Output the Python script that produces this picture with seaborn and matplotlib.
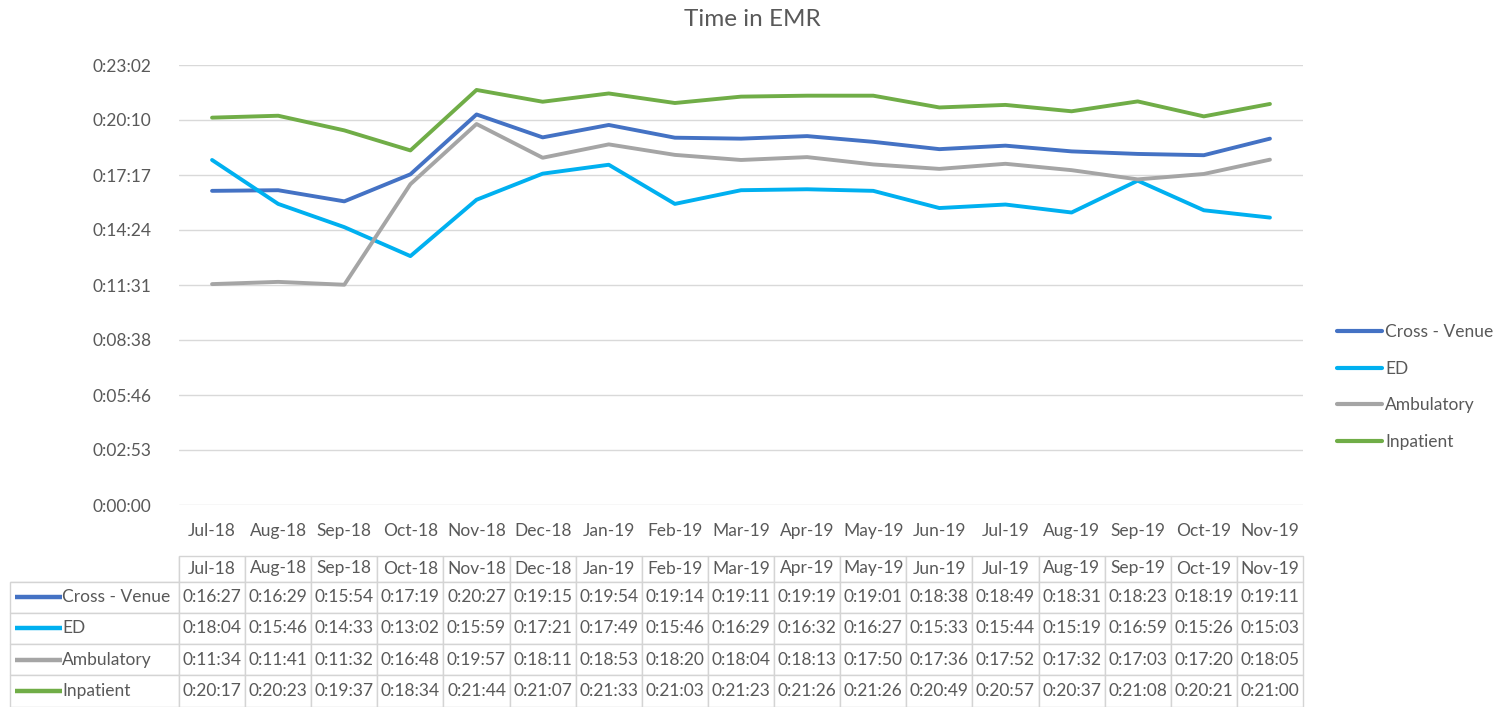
"""Time in EMR line chart with data table underneath (Excel-style)."""

import matplotlib
matplotlib.use("Agg")
import matplotlib.pyplot as plt
from matplotlib.lines import Line2D
from matplotlib.ticker import FixedLocator, FuncFormatter
import pandas as pd
import seaborn as sns

months = ["Jul-18", "Aug-18", "Sep-18", "Oct-18", "Nov-18", "Dec-18", "Jan-19", "Feb-19",
          "Mar-19", "Apr-19", "May-19", "Jun-19", "Jul-19", "Aug-19", "Sep-19", "Oct-19", "Nov-19"]

series_names = ["Cross - Venue", "ED", "Ambulatory", "Inpatient"]

cross_venue = ["0:16:27", "0:16:29", "0:15:54", "0:17:19", "0:20:27", "0:19:15", "0:19:54", "0:19:14",
               "0:19:11", "0:19:19", "0:19:01", "0:18:38", "0:18:49", "0:18:31", "0:18:23", "0:18:19", "0:19:11"]
ed = ["0:18:04", "0:15:46", "0:14:33", "0:13:02", "0:15:59", "0:17:21", "0:17:49", "0:15:46",
      "0:16:29", "0:16:32", "0:16:27", "0:15:33", "0:15:44", "0:15:19", "0:16:59", "0:15:26", "0:15:03"]
ambulatory = ["0:11:34", "0:11:41", "0:11:32", "0:16:48", "0:19:57", "0:18:11", "0:18:53", "0:18:20",
              "0:18:04", "0:18:13", "0:17:50", "0:17:36", "0:17:52", "0:17:32", "0:17:03", "0:17:20", "0:18:05"]
inpatient = ["0:20:17", "0:20:23", "0:19:37", "0:18:34", "0:21:44", "0:21:07", "0:21:33", "0:21:03",
             "0:21:23", "0:21:26", "0:21:26", "0:20:49", "0:20:57", "0:20:37", "0:21:08", "0:20:21", "0:21:00"]

colors = ["#4472C4", "#00B0F0", "#A5A5A5", "#70AD47"]

# Excel time axis: major unit 0.002 day = 172.8 s
y_step = 172.8
y_ticks = [k * y_step for k in range(9)]


def to_seconds(s: str) -> int:
    h, m, sec = s.split(":")
    return int(h) * 3600 + int(m) * 60 + int(sec)


def fmt_time(v, _pos=None) -> str:
    t = int(round(v))
    return f"{t // 3600}:{(t % 3600) // 60:02d}:{t % 60:02d}"


all_series = [cross_venue, ed, ambulatory, inpatient]
rows = []
for name, vals in zip(series_names, all_series):
    for i, v in enumerate(vals):
        rows.append({"idx": i, "month": months[i], "series": name, "secs": to_seconds(v)})
df = pd.DataFrame(rows)

sns.set_style("white")
plt.rcParams["font.family"] = ["Lato", "DejaVu Sans"]
text_color = "#595959"
fs = 12.5

W, H = 1505, 707
fig = plt.figure(figsize=(W / 100, H / 100), dpi=100)
ax = fig.add_axes([179 / W, 1 - 505 / H, (1303 - 179) / W, (505 - 65) / H])

sns.lineplot(data=df, x="idx", y="secs", hue="series", hue_order=series_names,
             palette=colors, linewidth=2.8, ax=ax, legend=False)

ax.set_xlim(-0.5, len(months) - 0.5)
ax.set_ylim(0, y_ticks[-1])
ax.yaxis.set_major_locator(FixedLocator(y_ticks))
ax.yaxis.set_major_formatter(FuncFormatter(fmt_time))
ax.set_xticks(range(len(months)))
ax.set_xticklabels(months)
ax.tick_params(axis="both", length=0, labelsize=fs, colors=text_color)
ax.tick_params(axis="x", pad=13)
ax.tick_params(axis="y", pad=20)
ax.grid(axis="y", color="#D9D9D9", linewidth=1)
ax.grid(axis="x", visible=False)
for sp in ax.spines.values():
    sp.set_visible(False)
ax.set_xlabel("")
ax.set_ylabel("")

fig.text(0.5, 1 - 20 / H, "Time in EMR", ha="center", va="center", fontsize=17.5, color=text_color)

handles = [Line2D([], [], color=c, linewidth=3) for c in colors]
fig.legend(handles, series_names, loc="center left", bbox_to_anchor=(1321 / W, 1 - 387 / H),
           frameon=False, fontsize=fs, labelcolor=text_color, handlelength=2.6,
           handletextpad=0.2, labelspacing=1.2)

# data table under the chart
tax = fig.add_axes([10 / W, 0.5 / H, (1303 - 10) / W, 151 / H])
tax.axis("off")
cell_text = [[name] + vals for name, vals in zip(series_names, all_series)]
label_w = 169
col_w = (1303 - 179) / len(months)
widths = [label_w] + [col_w] * len(months)
tbl = tax.table(cellText=cell_text, colLabels=[""] + months, colWidths=widths,
                cellLoc="center", bbox=[0, 0, 1, 1])
tbl.auto_set_font_size(False)
tbl.set_fontsize(fs)
row_h = [26] + [31.25] * len(series_names)
for (r, c), cell in tbl.get_celld().items():
    cell.set_edgecolor("#D4D4D4")
    cell.set_linewidth(1)
    cell.set_height(row_h[r])
    cell.get_text().set_color(text_color)
    if c == 0:
        cell._loc = "left"
        cell.PAD = 0.31
        cell.get_text().set_ha("left")
    if r == 0 and c == 0:
        cell.visible_edges = "BR"

total_h = sum(row_h)
for r, c in enumerate(colors, start=1):
    centre = (total_h - sum(row_h[:r]) - row_h[r] / 2) / total_h
    tax.add_line(Line2D([5 / 1293, 52 / 1293], [centre, centre], color=c, linewidth=3.2,
                        transform=tax.transAxes, clip_on=False, solid_capstyle="butt"))

fig.savefig("out.png", dpi=100)
